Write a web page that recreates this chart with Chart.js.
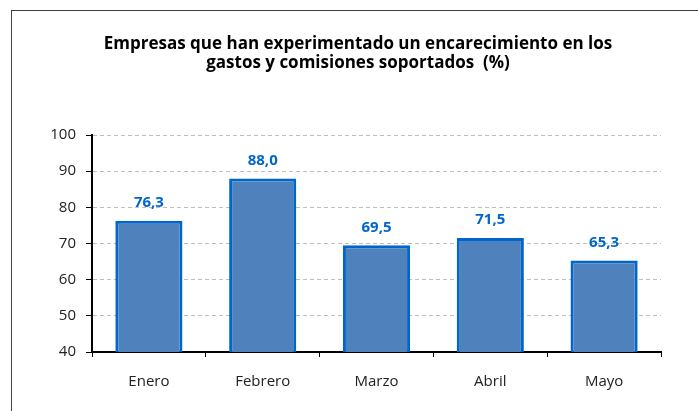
<!DOCTYPE html>
<html>
<head>
<meta charset="utf-8">
<script src="https://cdn.jsdelivr.net/npm/chart.js@4/dist/chart.umd.min.js"></script>
<style>
  html, body { margin: 0; padding: 0; background: #fff; }
  #wrap { width: 698px; height: 411px; position: relative; }
</style>
</head>
<body>
<div id="wrap"><canvas id="gastosChart" width="698" height="411"></canvas></div>
<script>
// Data
const meses = ['Enero', 'Febrero', 'Marzo', 'Abril', 'Mayo'];
const valores = [76.3, 88.0, 69.5, 71.5, 65.3];
const titulo = ['Empresas que han experimentado un encarecimiento en los', 'gastos y comisiones soportados  (%)'];

// Colors
const barFill = '#4F81BD';
const barBorder = '#0066CC';
const labelColor = '#0066CC';
const gridColor = '#BFBFBF';
const fontFamily = "'Open Sans', 'Lato', sans-serif";

// frame around the whole chart + title (title is centred on the frame, not the plot)
const framePlugin = {
    id: 'frame',
    beforeDraw(chart) {
        const ctx = chart.ctx;
        ctx.save();
        ctx.fillStyle = '#fff';
        ctx.fillRect(0, 0, chart.width, chart.height);
        ctx.strokeStyle = '#404040';
        ctx.lineWidth = 1;
        ctx.strokeRect(11.5, 10.5, 720, 430);

        ctx.font = 'bold 17px ' + fontFamily;
        ctx.fillStyle = '#000';
        ctx.textAlign = 'center';
        ctx.textBaseline = 'middle';
        titulo.forEach(function(line, i) {
            ctx.fillText(line, 358, 44 + i * 19);
        });
        ctx.restore();
    }
};

// value labels above the bars (comma decimal)
const valueLabels = {
    id: 'valueLabels',
    afterDatasetsDraw(chart) {
        const ctx = chart.ctx;
        const meta = chart.getDatasetMeta(0);
        ctx.save();
        ctx.font = 'bold 15px ' + fontFamily;
        ctx.fillStyle = labelColor;
        ctx.textAlign = 'center';
        ctx.textBaseline = 'middle';
        meta.data.forEach(function(bar, i) {
            const txt = valores[i].toFixed(1).replace('.', ',');
            ctx.fillText(txt, bar.x, bar.y - 18);
        });
        ctx.restore();
    }
};

const ctx = document.getElementById('gastosChart').getContext('2d');
new Chart(ctx, {
    type: 'bar',
    data: {
        labels: meses,
        datasets: [{
            data: valores,
            backgroundColor: barFill,
            borderColor: barBorder,
            borderWidth: 3,
            barPercentage: 0.59,
            categoryPercentage: 1
        }]
    },
    options: {
        responsive: false,
        animation: false,
        layout: {
            padding: { left: 8, right: 37, top: 135, bottom: 0 }
        },
        scales: {
            y: {
                min: 40,
                max: 100,
                ticks: {
                    stepSize: 10,
                    color: '#222',
                    padding: 10,
                    font: { family: fontFamily, size: 15 }
                },
                grid: {
                    color: gridColor,
                    tickColor: '#000',
                    tickLength: 6,
                    tickBorderDash: [],
                    lineWidth: 1
                },
                border: { color: '#000', width: 2, dash: [4, 3] },
                afterFit: function(scale) { scale.width = 84; }
            },
            x: {
                ticks: {
                    color: '#222',
                    padding: 16,
                    font: { family: fontFamily, size: 15 }
                },
                grid: {
                    offset: true,
                    drawOnChartArea: false,
                    tickColor: '#000',
                    tickLength: 5
                },
                border: { color: '#000', width: 2 },
                afterFit: function(scale) { scale.height = 59; }
            }
        },
        plugins: {
            legend: { display: false },
            tooltip: { enabled: false },
            title: { display: false }
        }
    },
    plugins: [framePlugin, valueLabels]
});
</script>
</body>
</html>
